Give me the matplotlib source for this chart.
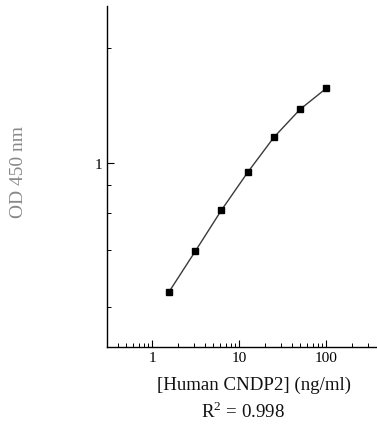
import numpy as np
import matplotlib
matplotlib.use("Agg")
import matplotlib.pyplot as plt
from matplotlib.ticker import FixedLocator, NullFormatter, LogLocator, FixedFormatter

# Data
conc = [1.5625, 3.125, 6.25, 12.5, 25, 50, 100]
od = [0.244, 0.396, 0.619, 0.911, 1.287, 1.686, 2.059]
x_major = [1, 10, 100]
x_major_labels = ["1", "10", "100"]
y_major = [1]
y_major_labels = ["1"]
y_minor = [0.2, 0.4, 0.6, 0.8, 3.0]

plt.rcParams['font.family'] = ['Liberation Serif', 'DejaVu Serif']
plt.rcParams['mathtext.fontset'] = 'custom'
plt.rcParams['mathtext.rm'] = 'Liberation Serif'

W, H = 377, 427
fig = plt.figure(figsize=(W / 100, H / 100), dpi=100)
ax = fig.add_axes([106.7 / W, 1 - 348 / H, (W - 106.7) / W, (348 - 7) / H])

ax.plot(conc, od, color='#3a3a3a', lw=1.0, zorder=2)
ax.plot(conc, od, linestyle='none', marker='s', ms=4.6, color='black', zorder=3)

ax.set_xscale('log')
ax.set_yscale('function', functions=(lambda y: np.log10(np.clip(y + 0.1, 1e-6, None)),
                                     lambda u: 10 ** u - 0.1))
ax.set_xlim(0.3, 383)
ax.set_ylim(0.109, 4.44)

ax.xaxis.set_major_locator(FixedLocator(x_major))
ax.xaxis.set_major_formatter(FixedFormatter(x_major_labels))
ax.xaxis.set_minor_locator(LogLocator(base=10, subs=np.arange(2, 10), numticks=20))
ax.xaxis.set_minor_formatter(NullFormatter())

ax.yaxis.set_major_locator(FixedLocator(y_major))
ax.yaxis.set_major_formatter(FixedFormatter(y_major_labels))
ax.yaxis.set_minor_locator(FixedLocator(y_minor))
ax.yaxis.set_minor_formatter(NullFormatter())

for s in ['top', 'right']:
    ax.spines[s].set_visible(False)
for s in ['left', 'bottom']:
    ax.spines[s].set_linewidth(1.0)
    ax.spines[s].set_color('black')

ax.tick_params(which='major', direction='in', length=5, width=0.8, labelsize=11, pad=3)
ax.tick_params(which='minor', direction='in', length=3, width=0.7)

fig.text(254.5 / W, 1 - 385 / H, '[Human CNDP2] (ng/ml)', fontsize=13.6,
         ha='center', va='center', color='#111111')
fig.text(243 / W, 1 - 412 / H, 'R$^2$ = 0.998', fontsize=13.6,
         ha='center', va='center', color='#111111')
fig.text(19 / W, 1 - 172.5 / H, 'OD 450 nm', fontsize=14, rotation=90,
         ha='center', va='center', color='#888888')

fig.savefig('out.png', dpi=100)
